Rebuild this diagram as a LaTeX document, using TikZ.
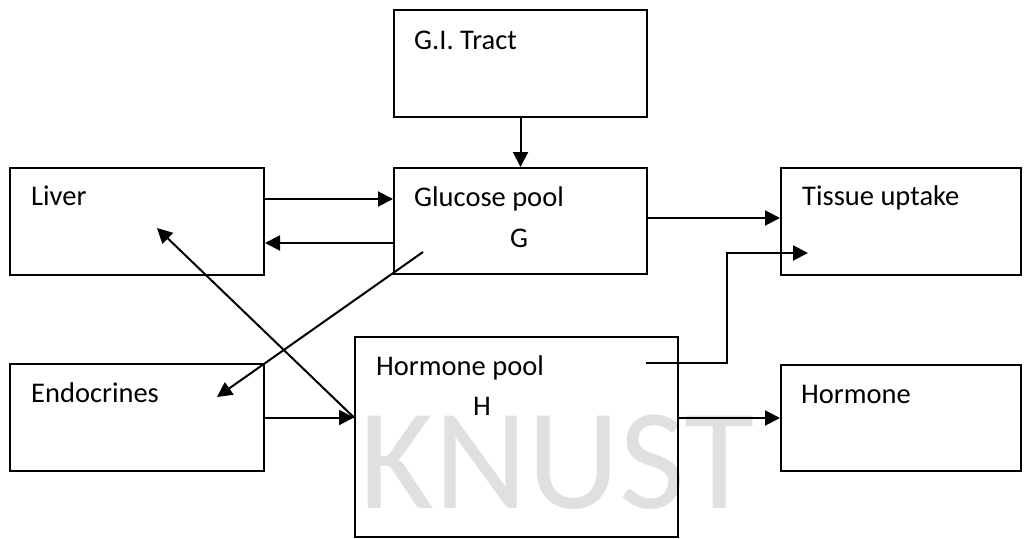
\documentclass[tikz,border=0pt]{standalone}
\usepackage{fontspec}
\setmainfont{Carlito}
\usetikzlibrary{arrows.meta,calc}
\definecolor{wm}{RGB}{224,224,224}
\tikzset{
  box/.style={draw=black,line width=2pt,rectangle,anchor=north west,inner sep=0pt},
  lbl/.style={anchor=base west,inner sep=0pt,font=\fontsize{28.5}{30}\selectfont},
  arr/.style={line width=2pt,-{Triangle[length=15pt,width=15pt]}},
  ln/.style={line width=2pt}
}
\begin{document}
\begin{tikzpicture}[x=1pt,y=-1pt]
\useasboundingbox (0,0) rectangle (1024,538);
% watermark
\node[anchor=base west,inner sep=0pt,text=wm,font=\fontsize{144}{150}\selectfont] (wmk) at (359,508) {KNUST};
% boxes
\node[box,minimum width=253pt,minimum height=107pt] (gi) at (393,9) {};
\node[box,minimum width=253pt,minimum height=106pt] (glu) at (393,167) {};
\node[box,minimum width=254pt,minimum height=107pt] (liv) at (9,167) {};
\node[box,minimum width=240pt,minimum height=107pt] (tis) at (780,167) {};
\node[box,minimum width=254pt,minimum height=107pt] (endo) at (9,363) {};
\node[box,minimum width=323pt,minimum height=200pt] (hp) at (354,336) {};
\node[box,minimum width=240pt,minimum height=106pt] (hor) at (780,364) {};
% labels
\node[lbl] (tgi) at (414,49) {G.I. Tract};
\node[lbl] (tglu) at (414,206) {Glucose pool};
\node[lbl] (tg) at (510,247) {G};
\node[lbl] (tliv) at (31,205) {Liver};
\node[lbl] (ttis) at (802,205) {Tissue uptake};
\node[lbl] (tendo) at (31,402) {Endocrines};
\node[lbl] (thp) at (376,375) {Hormone pool};
\node[lbl] (th) at (473,415) {H};
\node[lbl] (thor) at (801,403) {Hormone};
% free ends
\coordinate (g1) at (423,252);
\coordinate (e1) at (217,397);
\coordinate (l1) at (157,228);
\coordinate (h1) at (646,363);
\coordinate (bend) at (727,300);
\coordinate (t1) at (808,253);
% connectors
\draw[arr] (gi.south) -- (glu.north);
\draw[arr] ([yshift=-32pt]liv.north east) -- ([yshift=-32pt]glu.north west);
\draw[arr] ([yshift=-76pt]glu.north west) -- ([yshift=-76pt]liv.north east);
\draw[arr] ([yshift=-51pt]glu.north east) -- ([yshift=-51pt]tis.north west);
\draw[arr] (g1) -- (e1);
\draw[arr] (endo.east) -- (endo.east -| hp.west);
\draw[arr] (endo.east -| hp.west) -- (l1);
\draw[arr] (hp.east |- hor.west) -- (hor.west);
\draw[arr] (h1) -- (h1 -| bend) |- (t1);
\end{tikzpicture}
\end{document}
